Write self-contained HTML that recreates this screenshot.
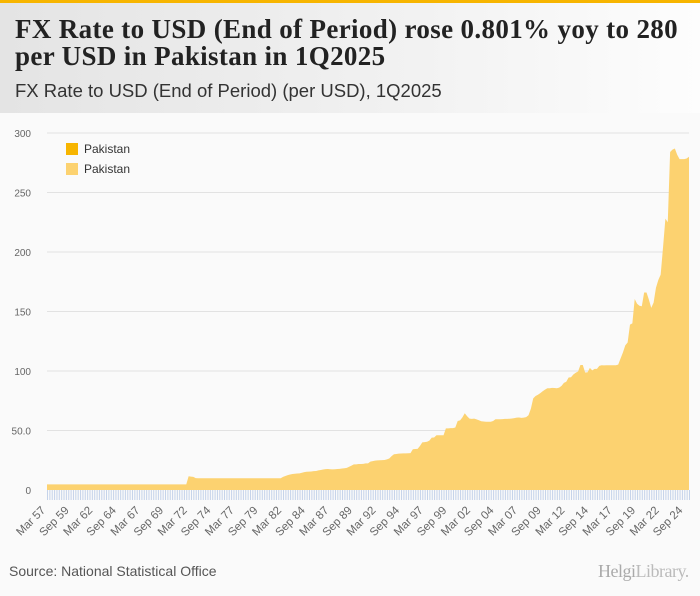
<!DOCTYPE html>
<html><head><meta charset="utf-8"><style>
body{margin:0;width:700px;height:596px;overflow:hidden;background:#fafafa;font-family:"Liberation Sans",sans-serif}
#hdr{position:absolute;left:0;top:0;width:700px;height:113px;background:linear-gradient(90deg,#e4e4e4 0%,#f2f2f2 60%,#fdfdfd 100%)}
#bar{position:absolute;left:0;top:0;width:700px;height:3px;background:#f7b500}
#t{position:absolute;left:15px;top:16px;font:bold 27px/27px "Liberation Serif",serif;color:#222;letter-spacing:0.35px;white-space:nowrap}
#st{position:absolute;left:15px;top:80px;font:18.5px "Liberation Sans",sans-serif;color:#333}
#src{position:absolute;left:9px;top:563px;font:14px "Liberation Sans",sans-serif;color:#555}
#logo{position:absolute;left:598px;top:561px;font:18px "Liberation Serif",serif;color:#aaa;letter-spacing:-0.5px}
</style></head><body>
<div id="hdr"><div id="bar"></div>
<div id="t">FX Rate to USD (End of Period) rose 0.801% yoy to 280<br>per USD in Pakistan in 1Q2025</div>
<div id="st">FX Rate to USD (End of Period) (per USD), 1Q2025</div></div>
<svg id="c" width="700" height="596" style="position:absolute;left:0;top:0"></svg>
<div id="src">Source: National Statistical Office</div>
<div id="logo">Helgi<span style="color:#bbb">Library.</span></div>
<script>
const startYear=1957;
const values=[
4.76,4.76,4.76,4.76, 4.76,4.76,4.76,4.76, 4.76,4.76,4.76,4.76, 4.76,4.76,4.76,4.76, 4.76,4.76,4.76,4.76,
4.76,4.76,4.76,4.76, 4.76,4.76,4.76,4.76, 4.76,4.76,4.76,4.76, 4.76,4.76,4.76,4.76, 4.76,4.76,4.76,4.76,
4.76,4.76,4.76,4.76, 4.76,4.76,4.76,4.76, 4.76,4.76,4.76,4.76, 4.76,4.76,4.76,4.76, 4.76,4.76,4.76,4.76,
11.5,11.2,11.0,10.0, 9.9,9.9,9.9,9.9, 9.9,9.9,9.9,9.9, 9.9,9.9,9.9,9.9, 9.9,9.9,9.9,9.9,
9.9,9.9,9.9,9.9, 9.9,9.9,9.9,9.9, 9.9,9.9,9.9,9.9, 9.9,9.9,9.9,9.9, 9.9,9.9,9.9,9.9,
11.0,11.8,12.5,13.0, 13.5,13.7,13.9,14.0, 14.5,15.0,15.3,15.4, 15.6,15.9,16.0,16.5,
16.8,17.2,17.5,17.6, 17.4,17.3,17.4,17.6, 17.8,18.1,18.3,18.6, 19.5,20.5,21.5,21.5,
21.8,21.9,22.0,22.4, 22.4,23.8,24.3,24.7, 24.9,25.0,25.1,25.2, 25.7,26.5,28.5,30.0,
30.3,30.6,30.7,30.8, 30.8,30.9,31.0,34.2, 34.5,34.6,37.0,40.0, 40.2,40.5,41.5,44.0,
44.1,46.0,46.0,46.0, 46.0,51.8,51.8,52.0, 52.0,52.5,58.0,58.5, 61.0,64.5,62.0,60.0,
59.8,60.0,59.3,58.6, 57.8,57.6,57.3,57.4, 57.4,58.0,59.5,59.4, 59.5,59.6,59.8,59.8,
59.9,60.1,60.4,60.8, 60.9,60.6,60.8,61.2, 62.8,68.3,77.0,79.0, 80.0,81.4,83.0,84.3,
85.5,85.5,85.8,85.7, 85.5,86.0,87.5,90.0, 91.0,94.5,94.8,97.1, 98.5,99.6,105.0,105.0,
98.7,98.8,102.6,100.5, 101.8,101.8,104.3,104.8, 104.7,104.8,104.8,104.8, 104.8,104.8,105.4,110.5,
115.5,121.5,124.0,139.0, 140.0,160.5,156.5,154.8, 154.4,166.0,166.0,160.0, 153.0,157.5,170.0,176.5,
181.0,204.0,228.0,225.0, 284.0,286.0,287.0,281.7, 278.0,278.0,278.0,278.6, 280.0];
const yTicks=[0,50,100,150,200,250,300];
const yTickLabels=["0","50.0","100","150","200","250","300"];
const seriesNames=["Pakistan","Pakistan"];
const seriesColors=["#f7b500","#fcd270"];
const NS="http://www.w3.org/2000/svg",svg=document.getElementById('c');
const x0=47,x1=689,yb=490,yt=133,ymax=300;
const X=i=>x0+(x1-x0)*i/(values.length-1);
const Y=v=>yb-(yb-yt)*v/ymax;
function mk(t,a){const e=document.createElementNS(NS,t);for(const k in a)e.setAttribute(k,a[k]);svg.appendChild(e);return e;}
yTicks.forEach((v,i)=>{
 if(v>0){const g=mk('line',{x1:x0,x2:x1,y1:Y(v),y2:Y(v),stroke:'#e2e2e2','stroke-width':1});
 
 }
 const t=mk('text',{x:31,y:Y(v)+4,'text-anchor':'end','font-size':10,fill:'#666','font-family':'Liberation Sans'});
 t.textContent=yTickLabels[i];
 
 
});
let d='M'+X(0)+','+yb;
values.forEach((v,i)=>{d+='L'+X(i).toFixed(2)+','+Y(v).toFixed(2);});
d+='L'+X(values.length-1)+','+yb+'Z';
const a=mk('path',{d:d,fill:seriesColors[1]});


let td='';
values.forEach((v,i)=>{td+='M'+(X(i)+0.5).toFixed(2)+','+yb+'v10';});
const tk=mk('path',{d:td,stroke:'#c5d3ea','stroke-width':1});


for(let i=0;i<values.length;i+=10){
 const yr=startYear+Math.floor(i/4),q=i%4;
 const lab=(q===0?'Mar ':q===2?'Sep ':q===1?'Jun ':'Dec ')+String(yr%100).padStart(2,'0');
 const x=X(i)-1,y=511;
 const t=mk('text',{x:x,y:y,'text-anchor':'end','font-size':11.5,fill:'#666','font-family':'Liberation Sans',transform:`rotate(-45 ${x} ${y})`});
 t.textContent=lab;
 
 
}
seriesNames.forEach((n,i)=>{
 const r=mk('rect',{x:66,y:143+i*20,width:12,height:12,fill:seriesColors[i]});
 
 
 const t=mk('text',{x:84,y:153+i*20,'font-size':12,fill:'#333','font-family':'Liberation Sans'});
 t.textContent=n;
 
 
});
</script>
</body></html>
